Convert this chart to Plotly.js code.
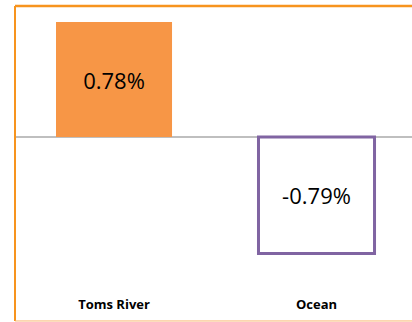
<!DOCTYPE html>
<html>
<head>
<meta charset="utf-8">
<script src="https://cdn.plot.ly/plotly-3.0.1.min.js"></script>
<style>html,body{margin:0;padding:0;background:#fff;}#chart{width:412px;height:322px;}</style>
</head>
<body>
<div id="chart"></div>
<script>
const categories = ["Toms River", "Ocean"];
const values = [0.78, -0.79];
const fillColors = ["#F79646", "#FFFFFF"];
const lineColors = ["#F79646", "#8064A2"];

const trace = {
  type: "bar",
  x: categories,
  y: values,
  width: 0.573,
  marker: {color: fillColors, line: {color: lineColors, width: [0, 3]}},
  texttemplate: "%{y:.2f}%",
  textposition: "inside",
  insidetextanchor: "middle",
  textfont: {family: "Open Sans, sans-serif", size: 22, color: "#000000"},
  constraintext: "none",
  hoverinfo: "skip"
};

const layout = {
  width: 412, height: 322,
  margin: {l: 15, r: 0, t: 6, b: 32},
  paper_bgcolor: "#FFFFFF",
  plot_bgcolor: "#FFFFFF",
  showlegend: false,
  xaxis: {
    type: "category",
    range: [-0.489, 1.4716],
    showgrid: false, zeroline: false, showline: false, ticks: "",
    tickfont: {family: "Open Sans, sans-serif", size: 13, color: "#000000", weight: "bold"},
    ticklabelstandoff: 5
  },
  yaxis: {
    range: [-1.038, 0.889],
    showgrid: false, showticklabels: false, ticks: "",
    zeroline: true, zerolinecolor: "#BFBFBF", zerolinewidth: 1.5, showline: false
  },
  shapes: [
    {type: "line", xref: "paper", yref: "paper", x0: 0, x1: 0, y0: -0.109, y1: 1, line: {color: "#F7941E", width: 2}},
    {type: "line", xref: "paper", yref: "paper", x0: 0, x1: 1, y0: 1, y1: 1, line: {color: "#F7941E", width: 2.5}},
    {type: "line", xref: "paper", yref: "paper", x0: 0, x1: 1, y0: -0.109, y1: -0.109, line: {color: "#F9B56F", width: 1}}
  ]
};

Plotly.newPlot("chart", [trace], layout, {displayModeBar: false, staticPlot: true});
</script>
</body>
</html>
